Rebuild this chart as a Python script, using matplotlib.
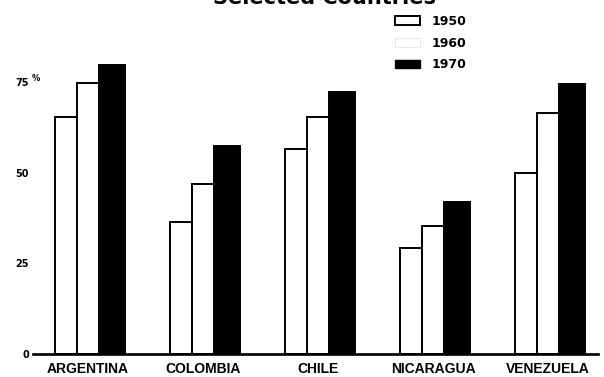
"""都市人口比率の棒グラフ"""

import matplotlib

matplotlib.use("Agg")
import matplotlib.pyplot as plt
import numpy as np
from matplotlib.patches import Patch

countries = ["ARGENTINA", "COLOMBIA", "CHILE", "NICARAGUA", "VENEZUELA"]
years = ["1950", "1960", "1970"]
pct_1950 = [65.5, 36.5, 56.6, 29.3, 50.0]
pct_1960 = [74.9, 47.0, 65.5, 35.4, 66.6]
pct_1970 = [79.8, 57.5, 72.4, 42.0, 74.6]
y_ticks = [0, 25, 50, 75]
y_tick_labels = ["0", "25", "50", "75"]
title = "Selected Countries"

label_font = ["Liberation Sans", "DejaVu Sans"]

fig = plt.figure(figsize=(6.04, 3.77), dpi=100)
ax = fig.add_axes([33 / 604, 23 / 377, (598 - 33) / 604, (354 - 30) / 377])

x = np.arange(len(countries))
ax.bar(x - 0.191, pct_1950, width=0.191, color="white",
       edgecolor="black", linewidth=1.4)
ax.bar(x, pct_1960, width=0.191, color="white",
       edgecolor="black", linewidth=1.4)
ax.bar(x + 0.209, pct_1970, width=0.226, color="black",
       edgecolor="black", linewidth=1.4)

ax.set_xlim(-0.478, 4.435)
ax.set_ylim(0, 89.5)

for side in ["left", "right", "top"]:
    ax.spines[side].set_visible(False)
ax.spines["bottom"].set_linewidth(1.9)

ax.set_xticks(x)
ax.set_xticklabels(countries, family=label_font, fontweight="bold",
                   fontsize=10)
ax.tick_params(axis="x", length=0, pad=6)
ax.set_yticks(y_ticks)
ax.set_yticklabels(y_tick_labels, fontweight="bold", fontsize=7)
ax.tick_params(axis="y", length=0, pad=3)
# 75の横の小さい%
ax.text(-0.49, 76, "%", fontsize=6, fontweight="bold",
        ha="left", va="center", clip_on=False)

# 上端で切れているタイトル
fig.text(0.538, 1 - 4 / 377, title, ha="center", va="baseline",
         fontsize=15, fontweight="bold")

handles = [
    Patch(facecolor="white", edgecolor="black", linewidth=1.4),
    Patch(facecolor="white", edgecolor="#bbbbbb", linewidth=0.6,
          linestyle=":"),
    Patch(facecolor="black", edgecolor="black"),
]
fig.legend(handles, years, loc="upper left",
           bbox_to_anchor=(395 / 604, 1 - 15 / 377),
           frameon=False, borderpad=0, borderaxespad=0,
           handlelength=2.0, handleheight=0.65, handletextpad=0.95,
           labelspacing=0.7, prop={"weight": "bold", "size": 9})

fig.savefig("out.png", dpi=100)
